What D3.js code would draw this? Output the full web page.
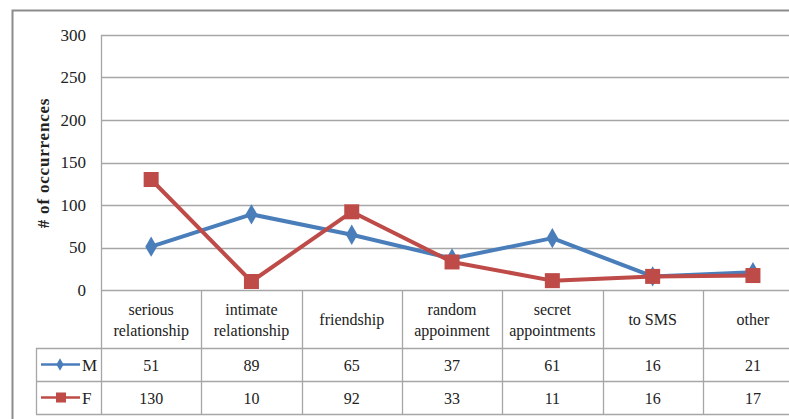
<!DOCTYPE html>
<html>
<head>
<meta charset="utf-8">
<script src="https://cdnjs.cloudflare.com/ajax/libs/d3/7.8.5/d3.min.js"></script>
<style>
  body { margin: 0; background: #fff; }
  svg { display: block; }
  svg text { font-family: "Liberation Serif", "DejaVu Serif", serif; }
</style>
</head>
<body>
<div id="chart"></div>
<script>
var categories = [["serious", "relationship"], ["intimate", "relationship"], ["friendship"], ["random", "appoinment"], ["secret", "appointments"], ["to SMS"], ["other"]]
var seriesNames = ["M", "F"]
var valuesM = [51, 89, 65, 37, 61, 16, 21]
var valuesF = [130, 10, 92, 33, 11, 16, 17]
var yTicks = [0, 50, 100, 150, 200, 250, 300]

var width = 789, height = 419
var plotLeft = 101, plotTop = 35, plotBottom = 290
var colW = 100.3
var rowCat = 348, rowM = 381, rowF = 414
var colors = {M: "#4a7ebb", F: "#be4b48"}

var svg = d3.select("#chart").append("svg").attr("width", width).attr("height", height)
svg.append("rect").attr("width", width).attr("height", height).attr("fill", "#fff")

// outer chart frame (cropped at right/bottom)
svg.append("path").attr("d", "M12.5," + height + "V10.5H" + width)
	.attr("fill", "none").attr("stroke", "#8c8c8c").attr("stroke-width", 2)

var x = d3.scaleBand().domain(d3.range(categories.length)).range([plotLeft, plotLeft + colW * categories.length]).padding(0)
var y = d3.scaleLinear().domain([0, 300]).range([plotBottom, plotTop])

// gridlines
svg.append("g").selectAll("line").data(yTicks).enter().append("line")
	.attr("x1", plotLeft).attr("x2", width)
	.attr("y1", function(d){return Math.round(y(d)) + 0.5}).attr("y2", function(d){return Math.round(y(d)) + 0.5})
	.attr("stroke", "#a6a6a6").attr("stroke-width", 1.5)

// y axis labels
var yAxis = svg.append("g").attr("transform", "translate(" + (plotLeft - 15) + ",0)")
	.call(d3.axisLeft(y).tickValues(yTicks).tickSize(0).tickPadding(0))
yAxis.attr("font-family", null)
yAxis.select(".domain").remove()
yAxis.selectAll("text").style("font-size", "17px").attr("fill", "#222")

svg.append("text").text("# of occurrences")
	.attr("transform", "translate(43,163) rotate(-90)")
	.attr("text-anchor", "middle").attr("dominant-baseline", "central")
	.style("font-size", "17px").style("font-weight", "bold").style("letter-spacing", "0.8px").attr("fill", "#222")

// data table grid
var grid = svg.append("g").attr("stroke", "#a6a6a6").attr("stroke-width", 1.3)
grid.append("line").attr("x1", plotLeft + 0.5).attr("x2", plotLeft + 0.5).attr("y1", plotTop).attr("y2", rowF)
grid.selectAll("line.col").data(d3.range(1, categories.length + 1)).enter().append("line").attr("class", "col")
	.attr("x1", function(d){return Math.round(plotLeft + colW * d) + 0.5}).attr("x2", function(d){return Math.round(plotLeft + colW * d) + 0.5})
	.attr("y1", plotBottom).attr("y2", rowF)
grid.append("line").attr("x1", 36.5).attr("x2", 36.5).attr("y1", rowCat).attr("y2", rowF)
grid.selectAll("line.row").data([rowCat, rowM, rowF]).enter().append("line").attr("class", "row")
	.attr("x1", 36).attr("x2", width).attr("y1", function(d){return d + 0.5}).attr("y2", function(d){return d + 0.5})

// category labels
svg.append("g").selectAll("text").data(categories).enter().append("text")
	.attr("text-anchor", "middle").style("font-size", "16px").attr("fill", "#222")
	.attr("x", function(d, i){return x(i) + x.bandwidth() / 2})
	.attr("y", function(d){return d.length == 1 ? 325 : 315})
	.selectAll("tspan").data(function(d){return d}).enter().append("tspan")
	.attr("x", function(){return d3.select(this.parentNode).attr("x")})
	.attr("dy", function(d, j){return j == 0 ? 0 : 21})
	.text(function(d){return d})

// value rows + legend
var series = [{name: "M", values: valuesM, row: rowCat}, {name: "F", values: valuesF, row: rowM}]
series.forEach(function(s) {
	var cy = (s.row + (s.row == rowCat ? rowM : rowF)) / 2
	var g = svg.append("g")
	g.selectAll("text").data(s.values).enter().append("text")
		.attr("x", function(d, i){return x(i) + x.bandwidth() / 2})
		.attr("y", cy + 6).attr("text-anchor", "middle")
		.style("font-size", "16px").attr("fill", "#222")
		.text(function(d){return d})
	g.append("line").attr("x1", 41).attr("x2", 80).attr("y1", cy).attr("y2", cy)
		.attr("stroke", colors[s.name]).attr("stroke-width", 2.5)
	if (s.name == "M") {
		g.append("path").attr("d", d3.symbol(d3.symbolDiamond, 45)()).attr("transform", "translate(60," + cy + ")").attr("fill", colors.M)
	} else {
		g.append("rect").attr("x", 56).attr("y", cy - 5).attr("width", 10).attr("height", 10).attr("fill", colors.F)
	}
	g.append("text").text(s.name).attr("x", 82).attr("y", cy + 6).style("font-size", "17px").attr("fill", "#222")
})

// lines
var line = d3.line().x(function(d, i){return x(i) + x.bandwidth() / 2}).y(function(d){return y(d)})
svg.append("path").datum(valuesM).attr("d", line).attr("fill", "none")
	.attr("stroke", colors.M).attr("stroke-width", 4).attr("stroke-linejoin", "round")
svg.append("g").selectAll("path").data(valuesM).enter().append("path")
	.attr("d", d3.symbol(d3.symbolDiamond, 120)())
	.attr("transform", function(d, i){return "translate(" + (x(i) + x.bandwidth() / 2) + "," + y(d) + ")"})
	.attr("fill", colors.M)

svg.append("path").datum(valuesF).attr("d", line).attr("fill", "none")
	.attr("stroke", colors.F).attr("stroke-width", 4).attr("stroke-linejoin", "round")
svg.append("g").selectAll("rect").data(valuesF).enter().append("rect")
	.attr("x", function(d, i){return x(i) + x.bandwidth() / 2 - 7.5})
	.attr("y", function(d){return y(d) - 7.5})
	.attr("width", 15).attr("height", 15)
	.attr("fill", colors.F)
</script>
</body>
</html>
